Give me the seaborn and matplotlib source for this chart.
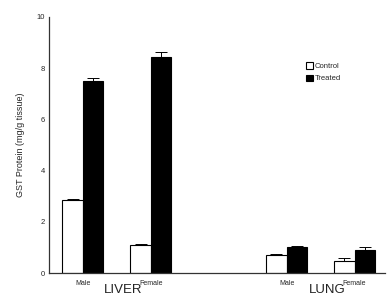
import numpy as np
import pandas as pd
import matplotlib
matplotlib.use('Agg')
import matplotlib.pyplot as plt
import seaborn as sns

# values
slots = ['Male', 'Female', 'gap', 'Male ', 'Female ']
categories = ['Male', 'Female', 'Male ', 'Female ']
tick_labels = ['Male', 'Female', '', 'Male', 'Female']
control = [2.85, 1.1, 0.7, 0.47]
treated = [7.5, 8.45, 1.02, 0.9]
control_err = [0.05, 0.05, 0.05, 0.1]
treated_err = [0.1, 0.2, 0.04, 0.12]
groups = ['LIVER', 'LUNG']

sns.set_style('white')
plt.rcParams['font.family'] = ['Liberation Sans', 'DejaVu Sans']

df = pd.DataFrame({
    'sex': categories * 2,
    'group': ['Control'] * 4 + ['Treated'] * 4,
    'value': control + treated,
})

fig = plt.figure(figsize=(3.91, 3.03), dpi=100)
ax = fig.add_axes([0.125, 0.099, 0.86, 0.845])

sns.barplot(data=df, x='sex', y='value', hue='group', order=slots,
            hue_order=['Control', 'Treated'], palette=['white', 'black'],
            edgecolor='black', linewidth=0.8, width=0.6, errorbar=None,
            legend=True, ax=ax)

# error bars (upper side only) on the bar tops
errs = control_err + treated_err
bars = [p for p in ax.patches if p.get_height() > 0]
for p, e in zip(bars, errs):
    ax.errorbar(p.get_x() + p.get_width() / 2, p.get_height(), yerr=[[0], [e]],
                fmt='none', ecolor='black', elinewidth=0.7, capsize=4, capthick=0.7)

ax.set_ylim(0, 10)
ax.set_xlim(-0.5, 4.45)
ax.set_yticks([0, 2, 4, 6, 8, 10])
ax.set_xticks(range(len(slots)))
ax.set_xticklabels(tick_labels)
ax.tick_params(axis='y', labelsize=5.5, length=2, width=0.6, direction='in', pad=3)
ax.tick_params(axis='x', labelsize=5, length=0, pad=5)
ax.set_xlabel('')
ax.set_ylabel('GST Protein (mg/g tissue)', fontsize=6.5, labelpad=8)

sns.despine(ax=ax)
for s in ['left', 'bottom']:
    ax.spines[s].set_linewidth(0.9)
    ax.spines[s].set_color('#333333')

ax.text(0.6, -0.68, groups[0], ha='center', va='center', fontsize=9.5, color='#222222')
ax.text(3.6, -0.68, groups[1], ha='center', va='center', fontsize=9.5, color='#222222')

ax.legend(loc='upper right', bbox_to_anchor=(0.89, 0.85), frameon=False, fontsize=5.5,
          handlelength=1.0, handleheight=0.9, handletextpad=0.2, labelspacing=0.6)

fig.savefig('out.png', dpi=100)
